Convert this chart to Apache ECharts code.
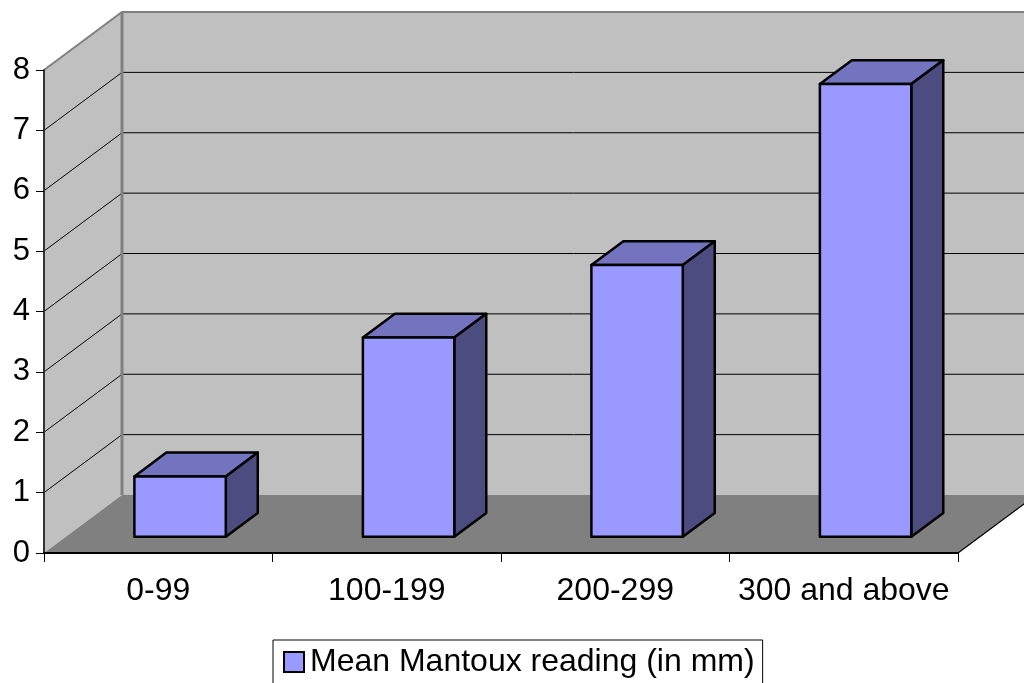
<!DOCTYPE html>
<html>
<head>
<meta charset="utf-8">
<script src="https://cdn.jsdelivr.net/npm/echarts@6/dist/echarts.min.js"></script>
<style>
html,body{margin:0;padding:0;background:#fff;}
#chart{width:1024px;height:683px;}
</style>
</head>
<body>
<div id="chart"></div>
<script>
// ---- data ----
const categories = ['0-99', '100-199', '200-299', '300 and above'];
const values = [1.0, 3.3, 4.5, 7.5];
const yTicks = [0, 1, 2, 3, 4, 5, 6, 7, 8];
const seriesName = 'Mean Mantoux reading (in mm)';

// ---- style ----
const FONT = "'Liberation Sans', Arial, sans-serif";
const DEPTH = [78, -58];       // full depth vector of the 3D box
const BAR_FRONT = 0.28;        // bar front plane (fraction of depth)
const BAR_THICK = 0.41;        // bar thickness (fraction of depth)
const BAR_W = 0.4;             // bar width as fraction of band

const chart = echarts.init(document.getElementById('chart'), null, {renderer: 'canvas'});

function wallsRender(params, api) {
  const cs = params.coordSys;
  const yMin = yTicks[0], yMax = yTicks[yTicks.length - 1];
  const y0 = api.coord([0, yMin])[1];
  const y8 = api.coord([0, yMax])[1];
  const xl = cs.x, xr = cs.x + cs.width;
  const dx = DEPTH[0], dy = DEPTH[1];
  const ch = [];
  // back wall
  ch.push({type: 'polygon', shape: {points: [[xl + dx, y8 + dy], [xr + dx + 40, y8 + dy], [xr + dx + 40, y0 + dy], [xl + dx, y0 + dy]]},
    style: {fill: '#C0C0C0', stroke: null}});
  // left wall
  ch.push({type: 'polygon', shape: {points: [[xl, y8], [xl + dx, y8 + dy], [xl + dx, y0 + dy], [xl, y0]]},
    style: {fill: '#C0C0C0', stroke: null}});
  // floor
  ch.push({type: 'polygon', shape: {points: [[xl, y0], [xr, y0], [xr + dx, y0 + dy], [xl + dx, y0 + dy]]},
    style: {fill: '#808080', stroke: null}});
  // gridlines
  yTicks.forEach(function (t) {
    if (t === yMin || t === yMax) return;
    const y = api.coord([0, t])[1];
    ch.push({type: 'line', shape: {x1: xl, y1: y, x2: xl + dx, y2: y + dy}, style: {stroke: '#000', lineWidth: 1}});
    ch.push({type: 'line', shape: {x1: xl + dx, y1: y + dy, x2: xr + dx + 40, y2: y + dy}, style: {stroke: '#000', lineWidth: 1}});
  });
  // wall edges
  ch.push({type: 'polyline', shape: {points: [[xl, y8], [xl + dx, y8 + dy], [xr + dx + 40, y8 + dy]]},
    style: {stroke: '#808080', lineWidth: 2, fill: null}});
  ch.push({type: 'line', shape: {x1: xl + dx, y1: y8 + dy, x2: xl + dx, y2: y0 + dy}, style: {stroke: '#808080', lineWidth: 3}});
  // floor right edge
  ch.push({type: 'line', shape: {x1: xr, y1: y0, x2: xr + dx, y2: y0 + dy}, style: {stroke: '#000', lineWidth: 1.2}});
  return {type: 'group', children: ch};
}

function barRender(params, api) {
  const i = api.value(0), v = api.value(1);
  const top = api.coord([i, v]);
  const bot = api.coord([i, 0]);
  const band = api.size([1, 0])[0];
  const hw = band * BAR_W / 2;
  const ox = DEPTH[0] * BAR_FRONT, oy = DEPTH[1] * BAR_FRONT;
  const tx = DEPTH[0] * BAR_THICK, ty = DEPTH[1] * BAR_THICK;
  const x0 = top[0] - hw + ox, x1 = top[0] + hw + ox;
  const yt = top[1] + oy, yb = bot[1] + oy;
  const st = {stroke: '#000', lineWidth: 2.5, lineJoin: 'round'};
  return {type: 'group', children: [
    {type: 'polygon', shape: {points: [[x0, yt], [x1, yt], [x1 + tx, yt + ty], [x0 + tx, yt + ty]]},
      style: Object.assign({fill: '#7373BF'}, st)},
    {type: 'polygon', shape: {points: [[x1, yt], [x1 + tx, yt + ty], [x1 + tx, yb + ty], [x1, yb]]},
      style: Object.assign({fill: '#4C4C80'}, st)},
    {type: 'polygon', shape: {points: [[x0, yt], [x1, yt], [x1, yb], [x0, yb]]},
      style: Object.assign({fill: '#9999FF'}, st)}
  ]};
}

const option = {
  animation: false,
  backgroundColor: '#ffffff',
  grid: {left: 44, right: 66, top: 70, bottom: 130, containLabel: false},
  legend: {
    show: true,
    data: [seriesName],
    left: 273, top: 640,
    icon: 'rect',
    itemWidth: 20, itemHeight: 20,
    itemGap: 10,
    padding: [6, 8, 8, 10],
    borderColor: '#000', borderWidth: 1,
    itemStyle: {color: '#9999FF', borderColor: '#000', borderWidth: 2},
    textStyle: {fontSize: 32, fontFamily: FONT, color: '#000', padding: [0, 0, 0, 1]}
  },
  xAxis: {
    type: 'category',
    data: categories,
    boundaryGap: true,
    z: 10,
    axisLine: {show: true, lineStyle: {color: '#000', width: 2}},
    axisTick: {show: true, length: 9, interval: 0, lineStyle: {color: '#000', width: 1}},
    axisLabel: {fontSize: 32, fontFamily: FONT, color: '#000', margin: 22, interval: 0},
    splitLine: {show: false}
  },
  yAxis: {
    type: 'value',
    min: yTicks[0], max: yTicks[yTicks.length - 1], interval: 1,
    z: 10,
    axisLine: {show: true, lineStyle: {color: '#333', width: 2}},
    axisTick: {show: true, length: 8, lineStyle: {color: '#000', width: 1}},
    axisLabel: {fontSize: 31, fontFamily: FONT, color: '#000', margin: 14},
    splitLine: {show: false}
  },
  series: [
    {
      type: 'custom',
      name: '__walls',
      silent: true,
      z: 1,
      clip: false,
      renderItem: wallsRender,
      data: [[0, 0]],
      encode: {x: 0, y: 1}
    },
    {
      type: 'custom',
      name: seriesName,
      z: 3,
      clip: false,
      renderItem: barRender,
      itemStyle: {color: '#9999FF', borderColor: '#000', borderWidth: 2},
      data: values.map(function (v, i) { return [i, v]; }),
      encode: {x: 0, y: 1}
    }
  ]
};
chart.setOption(option);
</script>
</body>
</html>
